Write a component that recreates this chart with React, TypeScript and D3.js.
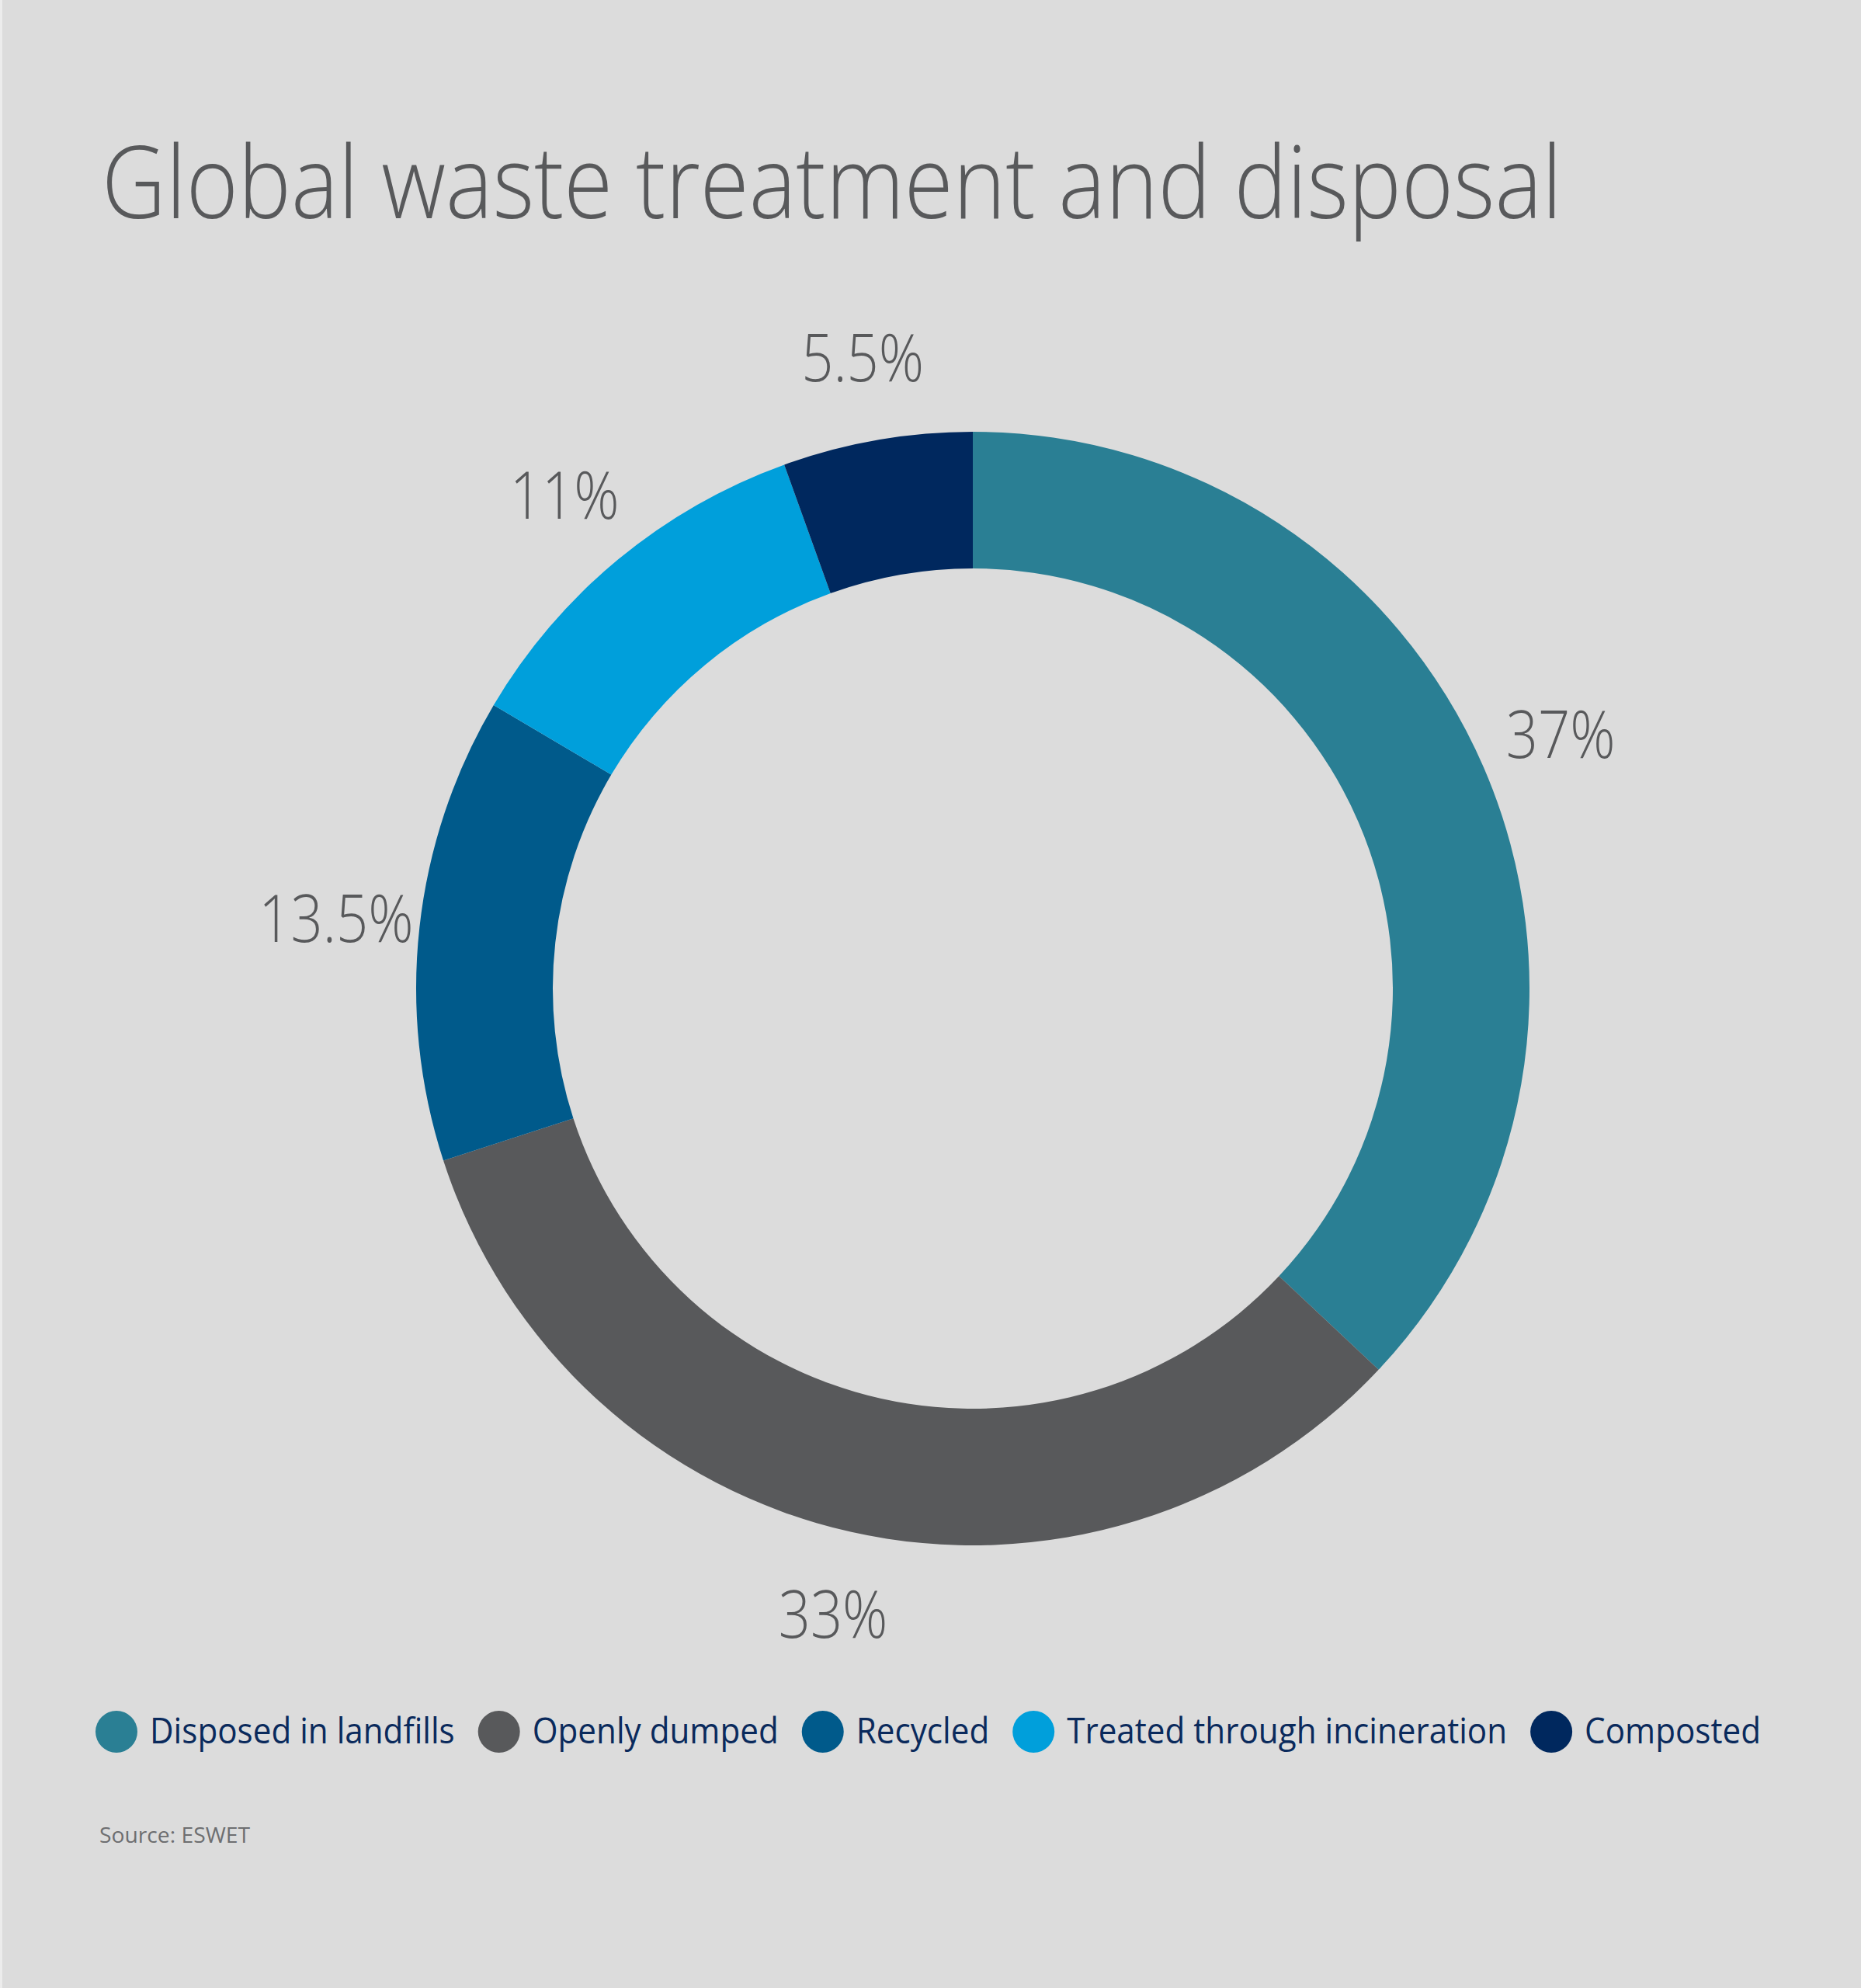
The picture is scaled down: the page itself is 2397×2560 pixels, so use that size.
import { useEffect, useRef } from 'react';
import * as d3 from 'd3';

const categories = [
  'Disposed in landfills',
  'Openly dumped',
  'Recycled',
  'Treated through incineration',
  'Composted',
];
const shares = [37, 33, 13.5, 11, 5.5];
const shareLabels = ['37%', '33%', '13.5%', '11%', '5.5%'];
const colors = ['#2a7f94', '#58595b', '#005a8b', '#009fdb', '#00285e'];

const title = 'Global waste treatment and disposal';
const source = 'Source: ESWET';

const W = 2397;
const H = 2560;
const FONT = '"Open Sans", "Noto Sans", Lato, sans-serif';

const App = () => {
  const svgRef = useRef<SVGSVGElement>(null);

  useEffect(() => {
    if (!svgRef.current) return;
    const svg = d3.select(svgRef.current);
    svg.selectAll('*').remove();

    // background
    svg.append('rect').attr('width', W).attr('height', H).attr('fill', '#dcdcdc');
    svg.append('rect').attr('width', 3).attr('height', H).attr('fill', '#ececec');

    // title
    svg.append('text')
      .attr('x', 131)
      .attr('y', 281)
      .attr('font-family', FONT)
      .attr('font-weight', 300)
      .attr('font-size', 130)
      .attr('fill', '#58595b')
      .attr('textLength', 1881)
      .attr('lengthAdjust', 'spacingAndGlyphs')
      .text(title);

    // donut
    const cx = 1253;
    const cy = 1273;
    const outer = 717;
    const inner = 541;

    const pie = d3.pie<number>().sort(null).value((d) => d);
    const arcs = pie(shares);
    const arc = d3.arc<d3.PieArcDatum<number>>().innerRadius(inner).outerRadius(outer);
    const labelArc = d3.arc<d3.PieArcDatum<number>>().innerRadius(825).outerRadius(825);

    const g = svg.append('g').attr('transform', `translate(${cx},${cy})`);
    g.selectAll('path')
      .data(arcs)
      .join('path')
      .attr('d', arc)
      .attr('fill', (_, i) => colors[i]);

    const labels = g.selectAll<SVGTextElement, d3.PieArcDatum<number>>('text.pct')
      .data(arcs)
      .join('text')
      .attr('class', 'pct')
      .attr('transform', (d) => `translate(${labelArc.centroid(d)})`)
      .attr('text-anchor', 'middle')
      .attr('dy', '0.36em')
      .attr('font-family', FONT)
      .attr('font-weight', 300)
      .attr('font-size', 85)
      .attr('fill', '#58595b')
      .text((_, i) => shareLabels[i]);
    labels.each(function () {
      const w = this.getComputedTextLength();
      d3.select(this).attr('textLength', w * 0.85).attr('lengthAdjust', 'spacingAndGlyphs');
    });

    // legend
    const legendY = 2230;
    const baseY = 2245;
    const startX = 150;
    const endX = 2268;
    const dotR = 27;
    const dotToText = 43;
    const textToDot = 57;

    const legend = svg.append('g');
    const texts = categories.map((c) =>
      legend.append('text')
        .attr('y', baseY)
        .attr('font-family', FONT)
        .attr('font-size', 46)
        .attr('fill', '#0a2a5c')
        .text(c)
    );
    const widths = texts.map((t) => (t.node() as SVGTextElement).getComputedTextLength());
    const room = endX - startX - dotToText * categories.length - textToDot * (categories.length - 1);
    const s = room / d3.sum(widths);

    let x = startX;
    categories.forEach((_, i) => {
      legend.append('circle')
        .attr('cx', x)
        .attr('cy', legendY)
        .attr('r', dotR)
        .attr('fill', colors[i]);
      const w = widths[i] * s;
      texts[i]
        .attr('x', x + dotToText)
        .attr('textLength', w)
        .attr('lengthAdjust', 'spacingAndGlyphs');
      x += dotToText + w + textToDot;
    });

    // source
    svg.append('text')
      .attr('x', 128)
      .attr('y', 2373)
      .attr('font-family', FONT)
      .attr('font-size', 28)
      .attr('fill', '#6d6e70')
      .attr('textLength', 194)
      .attr('lengthAdjust', 'spacingAndGlyphs')
      .text(source);
  }, []);

  return (
    <div style={{ position: 'absolute', left: 0, top: 0, width: W, height: H }}>
      <svg ref={svgRef} width={W} height={H} style={{ display: 'block' }} />
    </div>
  );
};

export default App;
